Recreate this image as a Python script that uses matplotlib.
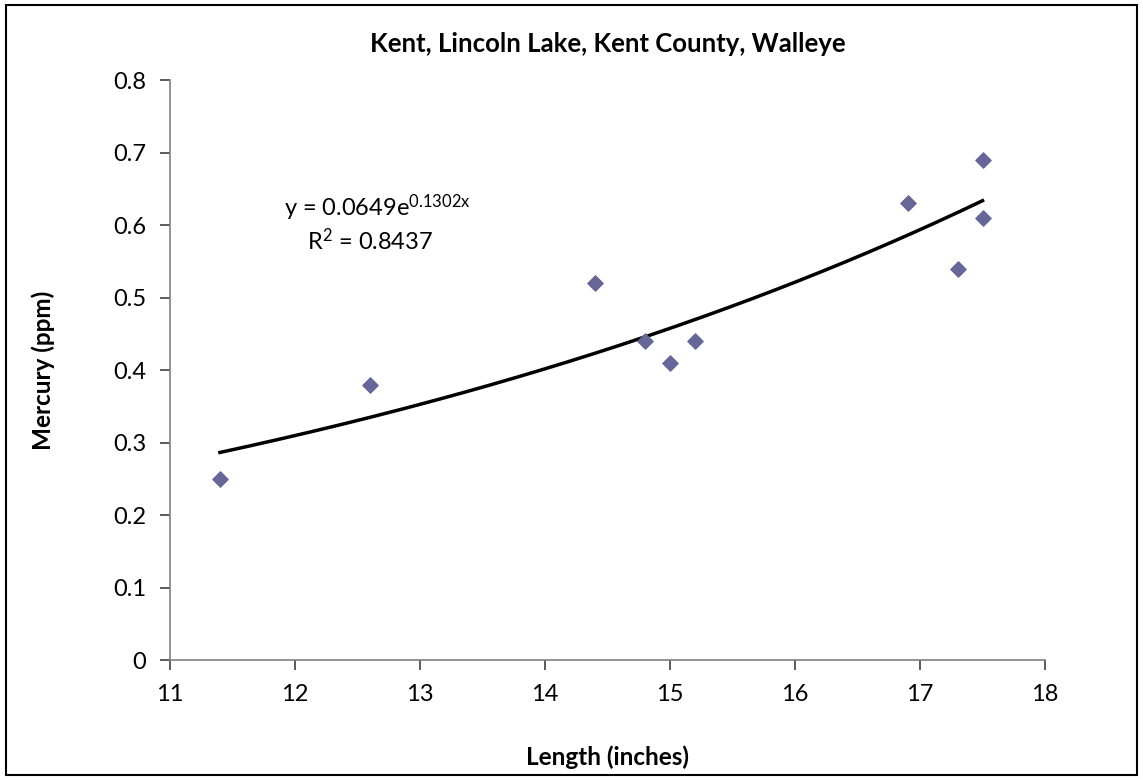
import numpy as np
import matplotlib.pyplot as plt
from matplotlib.patches import Rectangle

plt.rcParams['font.family'] = ['Lato', 'DejaVu Sans']
plt.rcParams['mathtext.fontset'] = 'custom'
plt.rcParams['mathtext.rm'] = 'Lato'
plt.rcParams['mathtext.it'] = 'Lato'

length = [11.4, 12.6, 14.4, 14.8, 15.0, 15.2, 16.9, 17.3, 17.5, 17.5]
mercury = [0.25, 0.38, 0.52, 0.44, 0.41, 0.44, 0.63, 0.54, 0.69, 0.61]

# trendline coefficients shown on the chart
coef_a = 0.0649
coef_b = 0.1302
r2 = 0.8437

fig = plt.figure(figsize=(11.43, 7.8), dpi=100)
ax = fig.add_axes([0.1487, 0.1538, 0.7656, 0.7436])

fig.patches.append(Rectangle((0.005, 0.006), 0.99, 0.988, transform=fig.transFigure,
                             fill=False, edgecolor='black', linewidth=1.5))

ax.scatter(length, mercury, marker='D', s=60, color='#666699', zorder=3)

xs = np.linspace(min(length), max(length), 200)
ax.plot(xs, coef_a * np.exp(coef_b * xs), color='black', linewidth=2.5)

ax.set_xlim(11, 18)
ax.set_ylim(0, 0.8)
ax.set_xticks(range(11, 19))
ax.set_yticks(np.arange(0, 0.81, 0.1))
ax.set_yticklabels(['0', '0.1', '0.2', '0.3', '0.4', '0.5', '0.6', '0.7', '0.8'])

for s in ['top', 'right']:
    ax.spines[s].set_visible(False)
for s in ['left', 'bottom']:
    ax.spines[s].set_color('#808080')
    ax.spines[s].set_linewidth(1.2)
ax.tick_params(direction='out', length=7, width=1.2, color='#404040',
               labelsize=17, pad=10)

ax.set_title('Kent, Lincoln Lake, Kent County, Walleye', fontsize=18.5,
             fontweight='bold', pad=20)
ax.set_xlabel('Length (inches)', fontsize=17.5, fontweight='bold', labelpad=29)
ax.set_ylabel('Mercury (ppm)', fontsize=17.5, fontweight='bold', labelpad=42)

ax.text(12.66, 0.624, 'y = 0.0649e$^{\\mathrm{0.1302x}}$', fontsize=17,
        ha='center', va='center')
ax.text(12.6, 0.578, 'R$^{\\mathrm{2}}$ = %.4f' % r2, fontsize=17,
        ha='center', va='center')

fig.savefig('out.png', dpi=100)
